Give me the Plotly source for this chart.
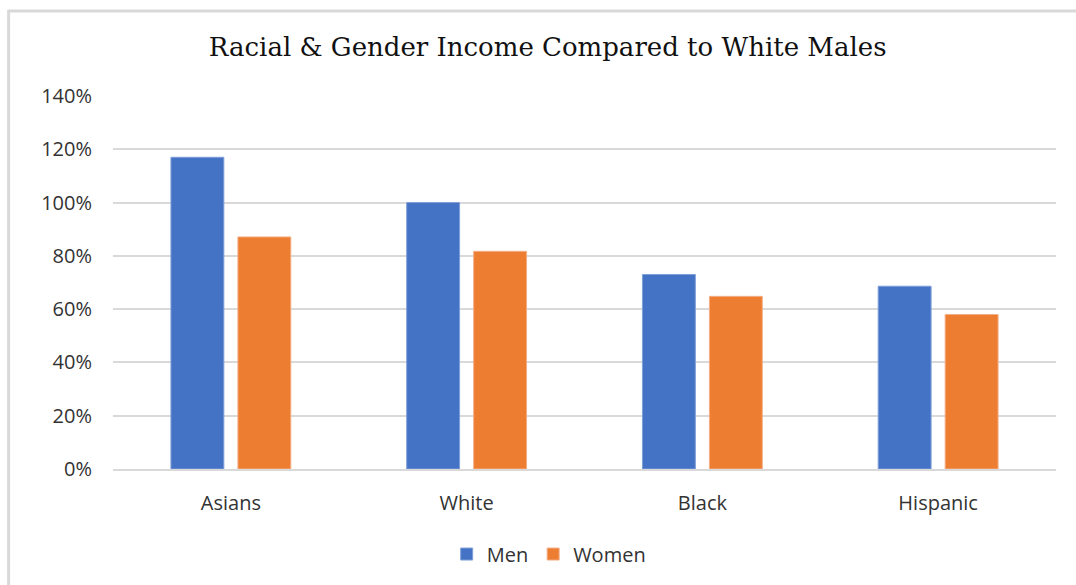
import plotly.graph_objects as go

categories = ["Asians", "White", "Black", "Hispanic"]
men = [1.17, 1.00, 0.73, 0.686]
women = [0.871, 0.817, 0.648, 0.58]
tick_vals = [0, 0.2, 0.4, 0.6, 0.8, 1.0, 1.2, 1.4]
tick_text = ["0%", "20%", "40%", "60%", "80%", "100%", "120%", "140%"]

fig = go.Figure()
fig.add_trace(go.Bar(name="Men", x=categories, y=men, marker=dict(color="#4472C4", line=dict(color="#7f9fd8", width=1))))
fig.add_trace(go.Bar(name="Women", x=categories, y=women, marker=dict(color="#ED7D31", line=dict(color="#f4ae86", width=1))))

fig.update_layout(
    width=1076, height=585,
    barmode="group", bargap=0.432, bargroupgap=0.21,
    paper_bgcolor="white", plot_bgcolor="white",
    margin=dict(l=113, r=20, t=96, b=116),
    title=dict(text="Racial & Gender Income Compared to White Males", x=0.509, xanchor="center",
               y=0.92, yanchor="middle",
               font=dict(family="DejaVu Serif", size=26, color="#111111")),
    font=dict(family="Open Sans", size=20, color="#333333"),
    yaxis=dict(range=[0, 1.4], tickvals=tick_vals, ticktext=tick_text, showgrid=True,
               gridcolor="#d9d9d9", gridwidth=1.5, zeroline=False, showline=False, ticks="",
               ticklabelstandoff=20, tickfont=dict(size=20, color="#333333")),
    xaxis=dict(showline=True, linecolor="#d9d9d9", linewidth=1.5, ticks="",
               tickfont=dict(size=20, color="#333333"), ticklabelstandoff=15),
    legend=dict(orientation="h", x=0.462, xanchor="center", y=-0.228, yanchor="middle",
                font=dict(size=20, color="#333333"), itemwidth=30),
    shapes=[
        dict(type="line", xref="paper", yref="paper", x0=-0.1107, x1=1.03, y0=1.228, y1=1.228,
             line=dict(color="#d9d9d9", width=3)),
        dict(type="line", xref="paper", yref="paper", x0=-0.1107, x1=-0.1107, y0=-0.35, y1=1.231,
             line=dict(color="#d9d9d9", width=3)),
    ],
)

fig.write_html("out.html")
